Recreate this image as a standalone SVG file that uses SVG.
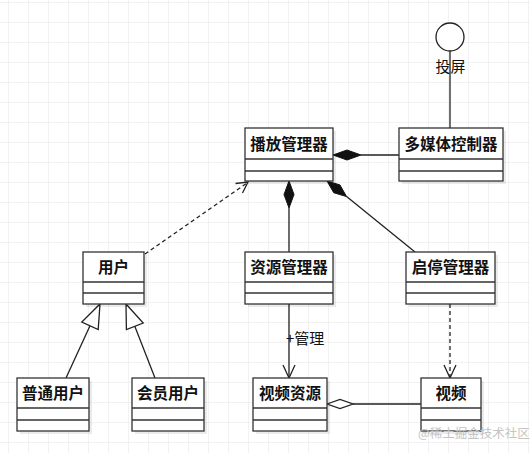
<svg xmlns="http://www.w3.org/2000/svg" width="530" height="453" viewBox="0 0 530 453">
<defs>
<pattern id="grid" x="8" y="2" width="20" height="20" patternUnits="userSpaceOnUse">
<path d="M 20 0 L 0 0 0 20" fill="none" stroke="#e6e6e6" stroke-width="1"/>
</pattern>
<style>
.box{fill:#fff;stroke:#333;stroke-width:1.3}
.sh{fill:#000;opacity:0.08}
.dv{stroke:#333;stroke-width:1.3}
.t{font-family:"Noto Sans CJK SC","Liberation Sans",sans-serif;font-size:15.5px;font-weight:bold;fill:#111;text-anchor:middle}
.lbl{font-family:"Noto Sans CJK SC","Liberation Sans",sans-serif;font-size:15px;fill:#111}
.ln{fill:none;stroke:#222;stroke-width:1.3}
.dash{fill:none;stroke:#222;stroke-width:1.3;stroke-dasharray:4 3}
.fd{fill:#111;stroke:#111;stroke-width:1}
.hd{fill:#fff;stroke:#222;stroke-width:1.3}
</style>
</defs>
<rect width="530" height="453" fill="#fff"/>
<rect width="530" height="453" fill="url(#grid)"/>

<g id="connectors">
<circle cx="450" cy="37" r="14" fill="#fff" stroke="#222" stroke-width="1.3"/>
<line class="ln" x1="450" y1="51" x2="450" y2="128"/>
<text class="lbl" x="450.5" y="72" text-anchor="middle" font-size="16">投屏</text>
<line class="ln" x1="361" y1="155" x2="399" y2="155"/>
<polygon class="fd" points="333,155 347,150 361,155 347,160"/>
<polygon class="fd" points="289,181 294,194.5 289,208 284,194.5"/>
<line class="ln" x1="289" y1="208" x2="289" y2="252"/>
<polygon class="fd" points="327,181 333.7,192.7 346.6,196.6 339.9,184.9"/>
<line class="ln" x1="346.6" y1="196.6" x2="415" y2="252"/>
<line class="dash" x1="145" y1="254" x2="247" y2="183"/>
<polyline class="ln" points="235.5,183.5 248,182 242.5,193"/>
<line class="ln" x1="66" y1="378" x2="90" y2="325.8"/>
<polygon class="hd" points="100,304 98.2,329.6 81.8,322"/>
<line class="ln" x1="155" y1="378" x2="134.8" y2="326.3"/>
<polygon class="hd" points="126,304 143.2,323 126.4,329.6"/>
<line class="ln" x1="289" y1="304" x2="289" y2="378"/>
<polyline class="ln" points="283,365 289,378 295,365"/>
<text class="lbl" x="286" y="344" font-size="14">+管理</text>
<line class="dash" x1="450" y1="304" x2="450" y2="378"/>
<polyline class="ln" points="444,365 450,378 456,365"/>
<line class="ln" x1="353" y1="404" x2="421" y2="404"/>
<polygon class="hd" points="327,404 340,399.5 353,404 340,408.5"/>
</g>

<g id="bofang">
<rect class="sh" x="248" y="131" width="88" height="53"/>
<rect class="box" x="245" y="128" width="88" height="53"/>
<line class="dv" x1="245" y1="159" x2="333" y2="159"/>
<line class="dv" x1="245" y1="171" x2="333" y2="171"/>
<text class="t" x="289" y="150">播放管理器</text>
</g>
<g id="duomeiti">
<rect class="sh" x="402" y="131" width="104" height="53"/>
<rect class="box" x="399" y="128" width="104" height="53"/>
<line class="dv" x1="399" y1="159" x2="503" y2="159"/>
<line class="dv" x1="399" y1="171" x2="503" y2="171"/>
<text class="t" x="451" y="150">多媒体控制器</text>
</g>
<g id="yonghu">
<rect class="sh" x="86" y="255" width="61" height="52"/>
<rect class="box" x="83" y="252" width="61" height="52"/>
<line class="dv" x1="83" y1="282" x2="144" y2="282"/>
<line class="dv" x1="83" y1="293" x2="144" y2="293"/>
<text class="t" x="113.5" y="273">用户</text>
</g>
<g id="ziyuan">
<rect class="sh" x="248" y="255" width="88" height="52"/>
<rect class="box" x="245" y="252" width="88" height="52"/>
<line class="dv" x1="245" y1="282" x2="333" y2="282"/>
<line class="dv" x1="245" y1="293" x2="333" y2="293"/>
<text class="t" x="289" y="273">资源管理器</text>
</g>
<g id="qiting">
<rect class="sh" x="409" y="255" width="89" height="52"/>
<rect class="box" x="406" y="252" width="89" height="52"/>
<line class="dv" x1="406" y1="282" x2="495" y2="282"/>
<line class="dv" x1="406" y1="293" x2="495" y2="293"/>
<text class="t" x="450.5" y="273">启停管理器</text>
</g>
<g id="putong">
<rect class="sh" x="20" y="381" width="72" height="53"/>
<rect class="box" x="17" y="378" width="72" height="53"/>
<line class="dv" x1="17" y1="408" x2="89" y2="408"/>
<line class="dv" x1="17" y1="420" x2="89" y2="420"/>
<text class="t" x="53" y="399">普通用户</text>
</g>
<g id="huiyuan">
<rect class="sh" x="135" y="381" width="72" height="53"/>
<rect class="box" x="132" y="378" width="72" height="53"/>
<line class="dv" x1="132" y1="408" x2="204" y2="408"/>
<line class="dv" x1="132" y1="420" x2="204" y2="420"/>
<text class="t" x="168" y="399">会员用户</text>
</g>
<g id="shipinziyuan">
<rect class="sh" x="256" y="381" width="74" height="53"/>
<rect class="box" x="253" y="378" width="74" height="53"/>
<line class="dv" x1="253" y1="408" x2="327" y2="408"/>
<line class="dv" x1="253" y1="420" x2="327" y2="420"/>
<text class="t" x="290" y="399">视频资源</text>
</g>
<g id="shipin">
<rect class="sh" x="424" y="381" width="60" height="53"/>
<rect class="box" x="421" y="378" width="60" height="53"/>
<line class="dv" x1="421" y1="408" x2="481" y2="408"/>
<line class="dv" x1="421" y1="420" x2="481" y2="420"/>
<text class="t" x="451" y="399">视频</text>
</g>
<text x="418" y="438" font-family="Noto Sans CJK SC,Liberation Sans,sans-serif" font-size="12.5" fill="#c4c4c4">@稀土掘金技术社区</text>
</svg>
